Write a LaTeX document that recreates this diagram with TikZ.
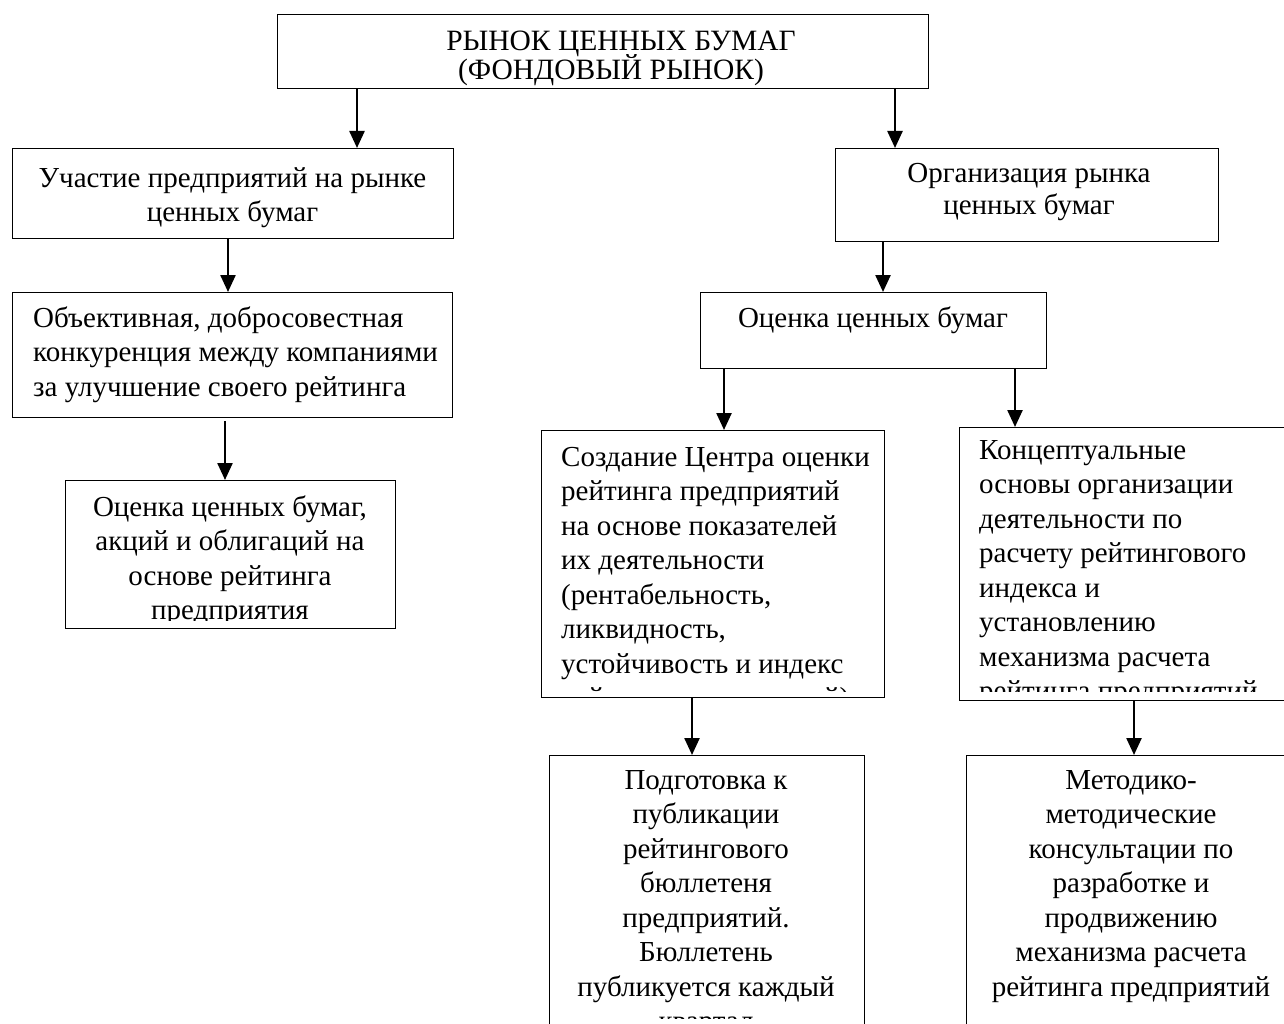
\documentclass[tikz,border=0pt]{standalone}
\usepackage{fontspec}
\setmainfont{Liberation Serif}
\usetikzlibrary{arrows.meta}
\newcommand{\tstrut}{\rule{0pt}{28pt}}
\tikzset{
  box/.style={draw=black, line width=1.4pt, inner sep=0pt, anchor=north west},
  txt/.style={inner sep=0pt, text=black, font=\fontsize{29}{34.5}\selectfont},
  arr/.style={line width=2.4pt, -{Triangle[length=17pt,width=15pt]}},
}
\begin{document}
\begin{tikzpicture}[x=1pt,y=-1pt]
\useasboundingbox (0,0) rectangle (1284,1024);
\fill[white] (0,0) rectangle (1284,1024);
\clip (0,0) rectangle (1284,1024);

% boxes
\node[box, minimum width=651pt, minimum height=74pt] (top) at (277,14) {};
\node[box, minimum width=441pt, minimum height=90pt] (uch) at (12,148) {};
\node[box, minimum width=383pt, minimum height=93pt] (org) at (835,148) {};
\node[box, minimum width=440pt, minimum height=125pt] (obj) at (12,292) {};
\node[box, minimum width=330pt, minimum height=148pt] (ocA) at (65,480) {};
\node[box, minimum width=346pt, minimum height=76pt] (ocB) at (700,292) {};
\node[box, minimum width=343pt, minimum height=267pt] (soz) at (541,430) {};
\node[box, minimum width=341pt, minimum height=273pt] (kon) at (959,427) {};
\node[box, minimum width=315pt, minimum height=280pt] (pod) at (549,755) {};
\node[box, minimum width=330pt, minimum height=280pt] (met) at (966,755) {};

% texts
\node[txt, align=center, anchor=north, font={\fontsize{29.5}{29}\selectfont\lineskiplimit=-40pt}] (topT) at (611,22)
  {\tstrut\hspace*{20pt}РЫНОК ЦЕННЫХ БУМАГ\\(ФОНДОВЫЙ\ РЫНОК)};
\node[txt, align=center, anchor=north] (uchT) at (232.5,159)
  {\tstrut Участие предприятий на рынке\\ценных бумаг};
\node[txt, align=center, anchor=north, font=\fontsize{29}{32}\selectfont] (orgT) at (1029,154)
  {\tstrut Организация рынка\\ценных бумаг};
\node[txt, align=left, anchor=north west] (objT) at (33,299)
  {\tstrut Объективная, добросовестная\\конкуренция между компаниями\\за улучшение своего рейтинга};
\begin{scope}
  \clip (ocA.north west) rectangle ([yshift=9pt]ocA.south east);
  \node[txt, align=center, anchor=north] (ocAT) at (230,488)
    {\tstrut Оценка ценных бумаг,\\акций и облигаций на\\основе рейтинга\\предприятия};
\end{scope}
\node[txt, align=center, anchor=north] (ocBT) at (873,299)
  {\tstrut Оценка ценных бумаг};
\begin{scope}
  \clip (soz.north west) rectangle ([yshift=7pt]soz.south east);
  \node[txt, align=left, anchor=north west] (sozT) at (561,438)
    {\tstrut Создание Центра оценки\\рейтинга предприятий\\на основе показателей\\их деятельности\\(рентабельность,\\ликвидность,\\устойчивость и индекс\\рейтинга предприятий)};
\end{scope}
\begin{scope}
  \clip (kon.north west) rectangle ([yshift=10pt]kon.south east);
  \node[txt, align=left, anchor=north west] (konT) at (979,431)
    {\tstrut Концептуальные\\основы организации\\деятельности по\\расчету рейтингового\\индекса и\\установлению\\механизма расчета\\рейтинга предприятий};
\end{scope}
\begin{scope}
  \clip (pod.north west) rectangle (pod.east |- 0,1018);
  \node[txt, align=center, anchor=north] (podT) at (706,761)
    {\tstrut Подготовка к\\публикации\\рейтингового\\бюллетеня\\предприятий.\\Бюллетень\\публикуется каждый\\квартал};
\end{scope}
\node[txt, align=center, anchor=north] (metT) at (1131,761)
  {\tstrut Методико-\\методические\\консультации по\\разработке и\\продвижению\\механизма расчета\\рейтинга предприятий};

% connector x positions
\coordinate (c1) at (357,0);
\coordinate (c2) at (895,0);
\coordinate (c3) at (228,0);
\coordinate (c4) at (225,0);
\coordinate (c5) at (883,0);
\coordinate (c6) at (724,0);
\coordinate (c7) at (1015,0);
\coordinate (c8) at (692,0);
\coordinate (c9) at (1134,0);

\draw[arr] (top.south -| c1) -- (uch.north -| c1);
\draw[arr] (top.south -| c2) -- (org.north -| c2);
\draw[arr] (uch.south -| c3) -- (obj.north -| c3);
\draw[arr] ([yshift=-3pt]obj.south -| c4) -- (ocA.north -| c4);
\draw[arr] (org.south -| c5) -- (ocB.north -| c5);
\draw[arr] (ocB.south -| c6) -- (soz.north -| c6);
\draw[arr] (ocB.south -| c7) -- (kon.north -| c7);
\draw[arr] (soz.south -| c8) -- (pod.north -| c8);
\draw[arr] (kon.south -| c9) -- (met.north -| c9);
\end{tikzpicture}
\end{document}
